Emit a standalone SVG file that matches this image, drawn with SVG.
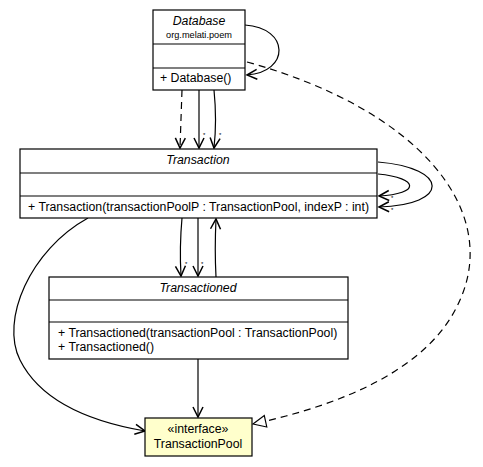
<svg xmlns="http://www.w3.org/2000/svg" width="483" height="467" viewBox="0 0 483 467">
<defs>
<marker id="open" markerWidth="12" markerHeight="12" refX="10" refY="5" orient="auto" markerUnits="userSpaceOnUse" viewBox="0 0 12 10" overflow="visible">
<path d="M0,0 L10,5 L0,10" fill="none" stroke="#000" stroke-width="1.5"/>
</marker>
<marker id="tri" markerWidth="14" markerHeight="14" refX="11" refY="5" orient="auto" markerUnits="userSpaceOnUse" viewBox="0 0 12 10" overflow="visible">
<path d="M0,0 L11,5 L0,10 Z" fill="#fff" stroke="#000" stroke-width="1"/>
</marker>
<style>
.box{fill:#fff;stroke:#000;stroke-width:1.2}
.iface{fill:#ffffcc;stroke:#000;stroke-width:1.2}
.sep{stroke:#000;stroke-width:1.2}
text{font-family:"Liberation Sans",Arial,sans-serif;font-size:12.3px;fill:#000}
.it{font-style:italic}
.small{font-size:9.2px}
.star{font-size:6px}
.c{fill:none;stroke:#000;stroke-width:1.2}
.d{fill:none;stroke:#000;stroke-width:1.2;stroke-dasharray:7,5}
</style>
</defs>
<g id="connectors">
<path class="c" d="M245,25 C290,28 290,72 247,75" marker-end="url(#open)"/>
<path class="d" d="M182,90 L180,148" marker-end="url(#open)"/>
<path class="c" d="M199,90 L199,148" marker-end="url(#open)"/>
<path class="c" d="M214,90 C216,110 216,130 214,148" marker-end="url(#open)"/>
<path class="d" d="M247,62 C420,110 500,210 460,300 C430,370 340,405 253,424" marker-end="url(#tri)"/>
<path class="c" d="M378,162 C450,168 450,205 379,207" marker-end="url(#open)"/>
<path class="c" d="M378,174 C420,178 420,194 379,196" marker-end="url(#open)"/>
<path class="c" d="M182,218 C180,240 180,258 181,276" marker-end="url(#open)"/>
<path class="c" d="M198,218 L198,276" marker-end="url(#open)"/>
<path class="c" d="M216,277 C215,258 215,240 216,219" marker-end="url(#open)"/>
<path class="c" d="M88,218 C30,250 0,320 20,360 C45,410 110,425 145,431" marker-end="url(#open)"/>
<path class="c" d="M198,359 L198,417" marker-end="url(#open)"/>
<text class="star" x="203" y="137">*</text>
<text class="star" x="219" y="137">*</text>
<text class="star" x="185" y="266">*</text>
<text class="star" x="201" y="266">*</text>
<text class="star" x="391" y="200">*</text>
<text class="star" x="391" y="212">*</text>
</g>
<g id="Database">
<rect class="box" x="153" y="10" width="92" height="80"/>
<line class="sep" x1="153" y1="44" x2="245" y2="44"/>
<line class="sep" x1="153" y1="68" x2="245" y2="68"/>
<text class="it" x="199" y="25" text-anchor="middle">Database</text>
<text class="small" x="199" y="38" text-anchor="middle">org.melati.poem</text>
<text x="160" y="82">+ Database()</text>
</g>
<g id="Transaction">
<rect class="box" x="20" y="149" width="357" height="69"/>
<line class="sep" x1="20" y1="173" x2="377" y2="173"/>
<line class="sep" x1="20" y1="196" x2="377" y2="196"/>
<text class="it" x="198" y="164" text-anchor="middle">Transaction</text>
<text x="28" y="211">+ Transaction(transactionPoolP : TransactionPool, indexP : int)</text>
</g>
<g id="Transactioned">
<rect class="box" x="49" y="277" width="299" height="82"/>
<line class="sep" x1="49" y1="300" x2="348" y2="300"/>
<line class="sep" x1="49" y1="322" x2="348" y2="322"/>
<text class="it" x="198" y="292" text-anchor="middle">Transactioned</text>
<text x="58" y="337">+ Transactioned(transactionPool : TransactionPool)</text>
<text x="58" y="351">+ Transactioned()</text>
</g>
<g id="TransactionPool">
<rect class="iface" x="145" y="418" width="107" height="38"/>
<text x="198" y="433" text-anchor="middle">«interface»</text>
<text x="198" y="448" text-anchor="middle">TransactionPool</text>
</g>
</svg>
